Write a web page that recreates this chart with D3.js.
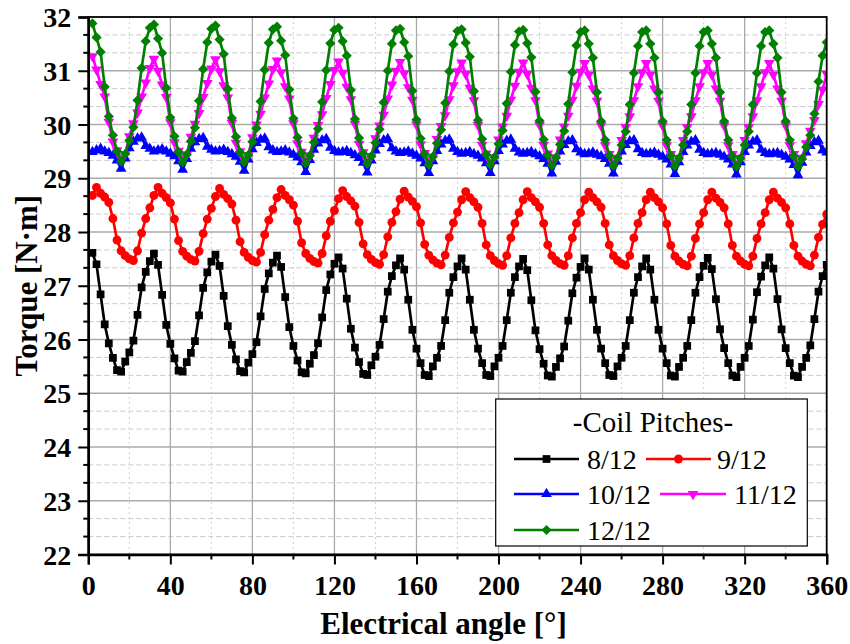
<!DOCTYPE html>
<html><head><meta charset="utf-8">
<script src="https://cdn.jsdelivr.net/npm/d3@7"></script>
<style>body{margin:0;background:#fff}svg{display:block}
text{font-family:"Liberation Serif","Times New Roman",serif;}</style>
</head><body>
<svg id="c" width="850" height="644"></svg>
<script>
// ---- data ----
const angles = d3.range(2, 362, 2); // 2..360 deg
const xTicks = [0,40,80,120,160,200,240,280,320,360];
const yTicks = [22,23,24,25,26,27,28,29,30,31,32];
const seriesNames = ["8/12","9/12","10/12","11/12","12/12"];

const pitch8 = [
27.61,27.40,26.84,26.28,25.93,25.66,25.43,25.40,25.59,25.76,25.98,26.46,26.97,27.26,27.46,
27.60,27.39,26.83,26.27,25.92,25.65,25.42,25.40,25.58,25.75,25.97,26.45,26.96,27.25,27.45,
27.58,27.37,26.81,26.25,25.90,25.63,25.41,25.39,25.57,25.73,25.95,26.43,26.94,27.23,27.43,
27.56,27.35,26.79,26.23,25.88,25.61,25.39,25.37,25.55,25.71,25.93,26.41,26.92,27.21,27.41,
27.53,27.32,26.76,26.20,25.85,25.58,25.36,25.34,25.52,25.68,25.90,26.38,26.89,27.18,27.38,
27.51,27.30,26.74,26.18,25.83,25.56,25.34,25.32,25.50,25.66,25.88,26.36,26.87,27.16,27.36,
27.51,27.30,26.74,26.18,25.83,25.56,25.34,25.32,25.50,25.66,25.88,26.36,26.87,27.16,27.36,
27.50,27.29,26.73,26.17,25.82,25.55,25.33,25.31,25.49,25.65,25.87,26.35,26.86,27.15,27.35,
27.51,27.30,26.74,26.18,25.83,25.56,25.34,25.32,25.50,25.66,25.88,26.36,26.87,27.16,27.36,
27.51,27.30,26.74,26.18,25.83,25.56,25.33,25.31,25.49,25.66,25.88,26.36,26.87,27.16,27.37,
27.52,27.31,26.75,26.19,25.84,25.56,25.33,25.30,25.49,25.66,25.88,26.37,26.88,27.17,27.38,
27.53,27.32,26.75,26.19,25.84,25.56,25.33,25.30,25.49,25.66,25.89,26.38,26.89,27.18,27.39];

const pitch9 = [
28.68,28.83,28.72,28.65,28.55,28.25,27.85,27.65,27.56,27.50,27.47,27.65,27.98,28.25,28.45,
28.68,28.83,28.72,28.64,28.54,28.24,27.84,27.64,27.55,27.49,27.46,27.64,27.97,28.24,28.44,
28.66,28.81,28.70,28.62,28.52,28.22,27.82,27.62,27.53,27.47,27.44,27.62,27.95,28.22,28.42,
28.64,28.79,28.68,28.60,28.50,28.20,27.80,27.60,27.51,27.45,27.42,27.60,27.93,28.20,28.40,
28.62,28.77,28.66,28.58,28.48,28.18,27.78,27.58,27.49,27.43,27.40,27.58,27.91,28.18,28.38,
28.61,28.76,28.65,28.57,28.47,28.17,27.77,27.57,27.48,27.42,27.39,27.57,27.90,28.17,28.37,
28.60,28.75,28.64,28.56,28.46,28.16,27.76,27.56,27.47,27.41,27.38,27.56,27.89,28.16,28.36,
28.60,28.75,28.64,28.56,28.46,28.16,27.76,27.56,27.47,27.41,27.38,27.56,27.89,28.16,28.36,
28.60,28.74,28.64,28.56,28.46,28.16,27.76,27.56,27.47,27.41,27.38,27.56,27.89,28.16,28.36,
28.60,28.74,28.64,28.56,28.45,28.15,27.75,27.55,27.46,27.40,27.37,27.55,27.88,28.15,28.36,
28.60,28.74,28.63,28.55,28.45,28.15,27.75,27.55,27.46,27.40,27.37,27.55,27.88,28.15,28.36,
28.60,28.74,28.63,28.55,28.45,28.15,27.75,27.55,27.46,27.40,27.37,27.57,27.90,28.14,28.33];

const pitch10 = [
29.49,29.52,29.55,29.50,29.47,29.42,29.33,29.18,29.37,29.56,29.68,29.74,29.76,29.60,29.55,
29.50,29.52,29.54,29.50,29.46,29.41,29.32,29.16,29.36,29.55,29.67,29.73,29.75,29.59,29.53,
29.50,29.51,29.53,29.49,29.45,29.40,29.31,29.14,29.35,29.54,29.66,29.72,29.74,29.58,29.52,
29.49,29.50,29.52,29.48,29.44,29.39,29.30,29.12,29.34,29.53,29.65,29.71,29.73,29.57,29.51,
29.48,29.49,29.51,29.47,29.43,29.38,29.29,29.11,29.33,29.52,29.64,29.71,29.73,29.56,29.50,
29.47,29.48,29.50,29.46,29.42,29.37,29.28,29.10,29.32,29.51,29.63,29.70,29.72,29.55,29.49,
29.46,29.47,29.49,29.45,29.42,29.37,29.28,29.10,29.32,29.51,29.63,29.70,29.72,29.55,29.48,
29.46,29.47,29.49,29.45,29.41,29.36,29.27,29.09,29.31,29.50,29.62,29.69,29.71,29.54,29.48,
29.45,29.46,29.48,29.44,29.41,29.36,29.27,29.09,29.31,29.50,29.62,29.69,29.71,29.54,29.47,
29.45,29.46,29.48,29.44,29.40,29.35,29.26,29.08,29.30,29.49,29.61,29.68,29.71,29.53,29.47,
29.45,29.46,29.47,29.44,29.40,29.35,29.26,29.07,29.30,29.49,29.61,29.68,29.71,29.53,29.47,
29.45,29.46,29.47,29.44,29.40,29.35,29.25,29.06,29.29,29.48,29.60,29.67,29.70,29.52,29.48];

const pitch11 = [
31.27,31.02,30.75,30.52,30.05,29.68,29.52,29.36,29.45,29.78,30.02,30.22,30.52,30.78,31.05,
31.22,31.00,30.74,30.51,30.04,29.67,29.51,29.35,29.44,29.77,30.01,30.21,30.51,30.77,31.04,
31.21,30.99,30.73,30.50,30.03,29.66,29.50,29.34,29.43,29.76,30.00,30.20,30.50,30.76,31.03,
31.19,30.97,30.71,30.48,30.02,29.65,29.49,29.33,29.42,29.75,29.99,30.19,30.49,30.75,31.01,
31.17,30.96,30.70,30.47,30.01,29.64,29.48,29.32,29.41,29.74,29.98,30.18,30.48,30.74,31.00,
31.16,30.95,30.69,30.46,30.00,29.63,29.47,29.31,29.40,29.73,29.97,30.17,30.47,30.73,30.99,
31.15,30.94,30.68,30.45,29.99,29.62,29.46,29.30,29.39,29.72,29.96,30.16,30.46,30.72,30.98,
31.15,30.94,30.68,30.45,29.99,29.62,29.46,29.29,29.39,29.72,29.96,30.16,30.46,30.72,30.98,
31.14,30.93,30.67,30.44,29.98,29.61,29.45,29.28,29.38,29.71,29.95,30.15,30.45,30.71,30.97,
31.14,30.93,30.67,30.44,29.98,29.61,29.45,29.28,29.38,29.71,29.95,30.15,30.45,30.71,30.97,
31.14,30.93,30.67,30.44,29.98,29.61,29.45,29.27,29.38,29.71,29.95,30.15,30.45,30.71,30.97,
31.14,30.93,30.67,30.44,29.98,29.61,29.45,29.27,29.38,29.65,29.88,30.08,30.38,30.65,30.94];

const pitch12 = [
31.88,31.62,31.35,30.70,30.15,29.80,29.50,29.31,29.45,29.70,29.95,30.45,31.05,31.55,31.80,
31.86,31.60,31.33,30.68,30.13,29.78,29.49,29.30,29.44,29.69,29.94,30.44,31.03,31.53,31.78,
31.84,31.58,31.31,30.66,30.12,29.77,29.48,29.30,29.43,29.68,29.93,30.43,31.02,31.52,31.77,
31.82,31.56,31.29,30.65,30.11,29.76,29.47,29.28,29.42,29.67,29.92,30.42,31.01,31.51,31.76,
31.80,31.55,31.28,30.64,30.10,29.75,29.46,29.27,29.41,29.66,29.91,30.41,31.00,31.50,31.75,
31.78,31.53,31.27,30.63,30.09,29.74,29.45,29.25,29.40,29.65,29.90,30.40,30.99,31.49,31.74,
31.77,31.52,31.26,30.62,30.08,29.73,29.44,29.25,29.39,29.64,29.89,30.39,30.98,31.48,31.73,
31.76,31.51,31.25,30.61,30.07,29.72,29.43,29.24,29.38,29.63,29.88,30.38,30.97,31.47,31.72,
31.75,31.50,31.24,30.60,30.06,29.71,29.42,29.23,29.37,29.62,29.87,30.37,30.96,31.46,31.72,
31.75,31.50,31.24,30.60,30.06,29.71,29.42,29.23,29.37,29.62,29.87,30.37,30.96,31.46,31.72,
31.75,31.50,31.24,30.60,30.06,29.71,29.41,29.22,29.37,29.62,29.87,30.37,30.96,31.46,31.72,
31.75,31.50,31.24,30.60,30.06,29.71,29.41,29.22,29.36,29.58,29.80,30.20,30.80,31.28,31.53];

// ---- chart ----
const svg = d3.select("#c");
const L = 88.3, R = 826.7, T = 17, B = 554.5;
const x = d3.scaleLinear().domain([0,360]).range([L,R]);
const y = d3.scaleLinear().domain([22,32]).range([B,T]);
const font = '"Liberation Serif","Times New Roman",serif';

const series = [
  {name:seriesNames[0], vals:pitch8,  color:"#000000", sym:d3.symbolSquare,   size:60, rot:0},
  {name:seriesNames[1], vals:pitch9,  color:"#ff0000", sym:d3.symbolCircle,   size:62, rot:0},
  {name:seriesNames[2], vals:pitch10, color:"#0000ff", sym:d3.symbolTriangle, size:50, rot:0},
  {name:seriesNames[3], vals:pitch11, color:"#ff00ff", sym:d3.symbolTriangle, size:50, rot:180},
  {name:seriesNames[4], vals:pitch12, color:"#008000", sym:d3.symbolSquare,   size:52, rot:45}
];

// grid
const g = svg.append("g");
const minorY = [];
for (let v=22; v<32; v++){ minorY.push(v+1/3, v+2/3); }
const minorX = d3.range(20, 360, 40);
g.selectAll(".mgy").data(minorY).join("line")
  .attr("x1",L).attr("x2",R).attr("y1",d=>y(d)).attr("y2",d=>y(d))
  .attr("stroke","#c8c8c8").attr("stroke-width",1).attr("stroke-dasharray","5,3");
g.selectAll(".mgx").data(minorX).join("line")
  .attr("y1",T).attr("y2",B).attr("x1",d=>x(d)).attr("x2",d=>x(d))
  .attr("stroke","#d0d0d0").attr("stroke-width",1).attr("stroke-dasharray","2,3");
g.selectAll(".gy").data(yTicks.slice(1,-1)).join("line")
  .attr("x1",L).attr("x2",R).attr("y1",d=>y(d)).attr("y2",d=>y(d))
  .attr("stroke","#aaaaaa").attr("stroke-width",1.3);
g.selectAll(".gx").data(xTicks.slice(1,-1)).join("line")
  .attr("y1",T).attr("y2",B).attr("x1",d=>x(d)).attr("x2",d=>x(d))
  .attr("stroke","#aaaaaa").attr("stroke-width",1.3);

// clip
svg.append("clipPath").attr("id","clip").append("rect")
  .attr("x",L).attr("y",T).attr("width",R-L).attr("height",B-T);

const plot = svg.append("g").attr("clip-path","url(#clip)");
const line = d3.line().x((d,i)=>x(angles[i])).y(d=>y(d));
series.forEach(s=>{
  const sg = plot.append("g");
  sg.append("path").datum(s.vals).attr("d",line)
    .attr("fill","none").attr("stroke",s.color).attr("stroke-width",2.7);
  const sym = d3.symbol().type(s.sym).size(s.size);
  sg.selectAll("path.m").data(s.vals).join("path").attr("class","m")
    .attr("d",sym)
    .attr("transform",(d,i)=>`translate(${x(angles[i])},${y(d)}) rotate(${s.rot})`)
    .attr("fill",s.color);
});

// frame
svg.append("rect").attr("x",L).attr("y",T).attr("width",R-L).attr("height",B-T)
  .attr("fill","none").attr("stroke","#000").attr("stroke-width",1.8);

// axes
const xAxis = d3.axisBottom(x).tickValues(xTicks).tickSize(10).tickPadding(8).tickFormat(d3.format("d"));
const gx = svg.append("g").attr("transform",`translate(0,${B})`).call(xAxis);
const yAxis = d3.axisLeft(y).tickValues(yTicks).tickSize(10).tickPadding(7).tickFormat(d3.format("d"));
const gy = svg.append("g").attr("transform",`translate(${L},0)`).call(yAxis);
[gx,gy].forEach(a=>{
  a.attr("font-family",null);
  a.select(".domain").attr("stroke","#000").attr("stroke-width",2.4);
  a.selectAll(".tick line").attr("stroke","#000").attr("stroke-width",2);
  a.selectAll(".tick text").style("font-family",font).style("font-weight","bold")
    .style("font-size","28px").attr("fill","#000");
});
gx.selectAll(".tick text").attr("dy","0.82em");
gy.selectAll(".tick text").attr("dy","0.34em");
// minor ticks
svg.append("g").selectAll("line").data(minorX).join("line")
  .attr("x1",d=>x(d)).attr("x2",d=>x(d)).attr("y1",B).attr("y2",B+5)
  .attr("stroke","#000").attr("stroke-width",2);
svg.append("g").selectAll("line").data(minorY).join("line")
  .attr("y1",d=>y(d)).attr("y2",d=>y(d)).attr("x1",L).attr("x2",L-5)
  .attr("stroke","#000").attr("stroke-width",2);

// titles
svg.append("text").attr("x",(L+R)/2 - 14).attr("y",634).attr("text-anchor","middle")
  .style("font-family",font).style("font-weight","bold").style("font-size","31px")
  .text("Electrical angle [°]");
svg.append("text").attr("transform",`translate(37,${(T+B)/2}) rotate(-90)`)
  .attr("text-anchor","middle")
  .style("font-family",font).style("font-weight","bold").style("font-size","31px")
  .text("Torque [N·m]");

// legend
const lg = svg.append("g");
lg.append("rect").attr("x",495.7).attr("y",399).attr("width",311.6).attr("height",147)
  .attr("fill","#fff").attr("stroke","#000").attr("stroke-width",1.2);
lg.append("text").attr("x",653).attr("y",432).attr("text-anchor","middle")
  .style("font-family",font).style("font-size","29px").text("-Coil Pitches-");
const lpos = [
  {x1:514, x2:579, ly:459, tx:587},
  {x1:646, x2:711, ly:459, tx:717},
  {x1:514, x2:579, ly:494, tx:587},
  {x1:660, x2:726, ly:494, tx:734},
  {x1:514, x2:579, ly:530, tx:587}
];
series.forEach((s,i)=>{
  const p = lpos[i];
  lg.append("line").attr("x1",p.x1).attr("x2",p.x2).attr("y1",p.ly).attr("y2",p.ly)
    .attr("stroke",s.color).attr("stroke-width",2.7);
  lg.append("path").attr("d",d3.symbol().type(s.sym).size(s.size)())
    .attr("transform",`translate(${(p.x1+p.x2)/2},${p.ly}) rotate(${s.rot})`)
    .attr("fill",s.color);
  lg.append("text").attr("x",p.tx).attr("y",p.ly+9.5)
    .style("font-family",font).style("font-size","28px").text(s.name);
});
</script>
</body></html>
